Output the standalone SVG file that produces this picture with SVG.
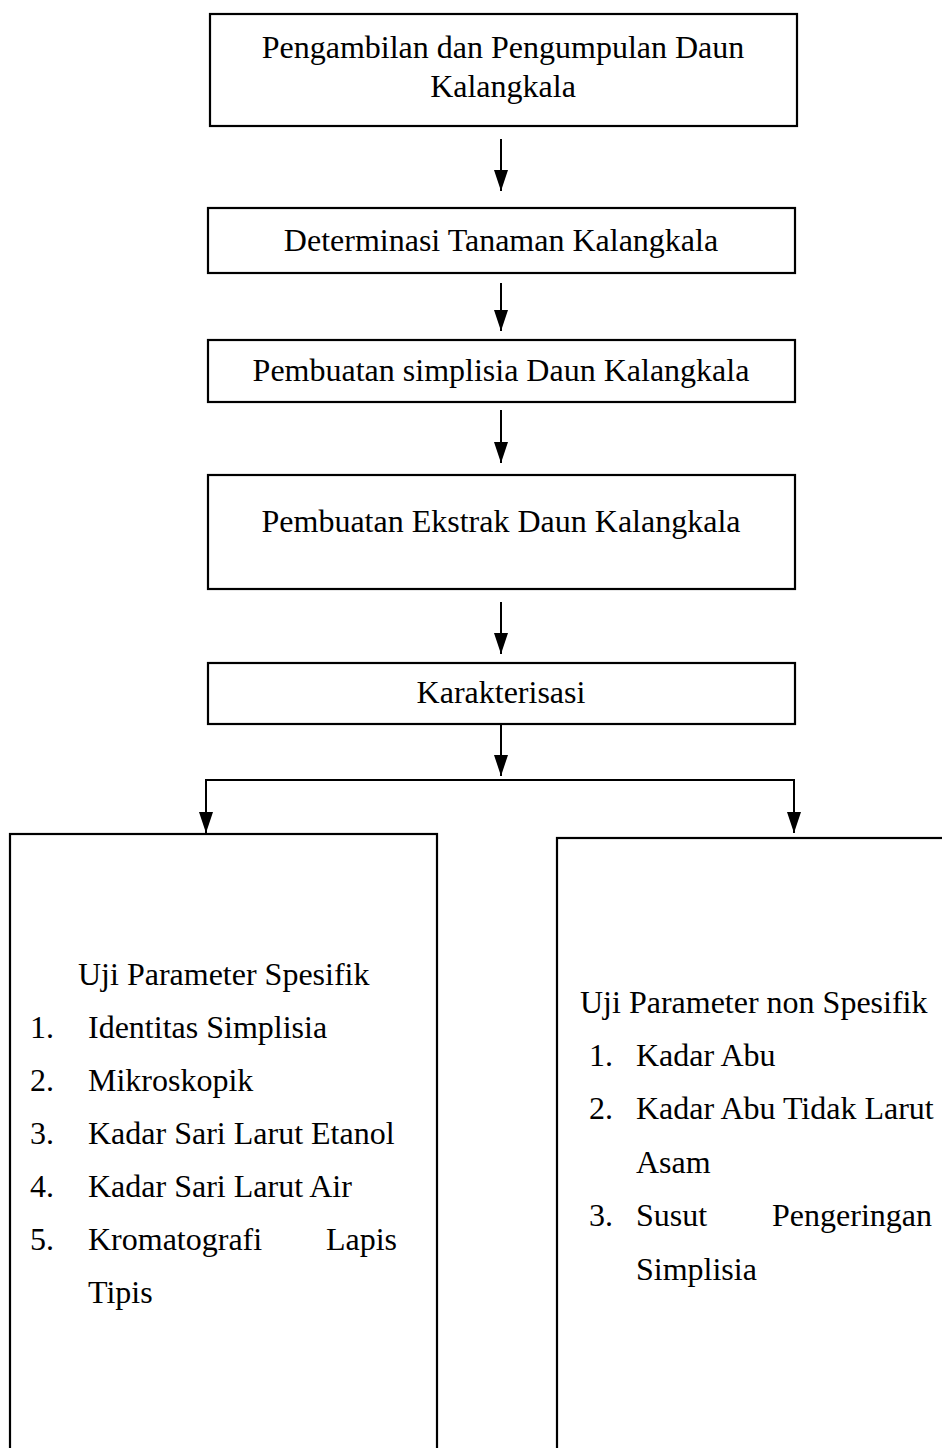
<svg xmlns="http://www.w3.org/2000/svg" width="942" height="1448" viewBox="0 0 942 1448">
<defs>
<marker id="ah" markerUnits="userSpaceOnUse" markerWidth="22" markerHeight="14" refX="21" refY="7" orient="auto" viewBox="0 0 22 14">
<path d="M0,0 L21,7 L0,14 Z" fill="#000"/>
</marker>
<style>
.box{fill:#fff;stroke:#000;stroke-width:2.2}
.t{font-family:"Liberation Serif","Times New Roman",serif;font-size:32px;fill:#000}
.c{text-anchor:middle}
.e{text-anchor:end}
.ln{stroke:#000;stroke-width:2;fill:none}
.ar{stroke:#000;stroke-width:2;fill:none;marker-end:url(#ah)}
</style>
</defs>
<g id="connectors">
<line class="ar" x1="501" y1="139" x2="501" y2="191"/>
<line class="ar" x1="501" y1="283" x2="501" y2="331"/>
<line class="ar" x1="501" y1="410" x2="501" y2="463"/>
<line class="ar" x1="501" y1="602" x2="501" y2="654"/>
<line class="ar" x1="501" y1="724" x2="501" y2="776"/>
<line class="ln" x1="206" y1="780" x2="794" y2="780"/>
<line class="ar" x1="206" y1="779" x2="206" y2="833"/>
<line class="ar" x1="794" y1="779" x2="794" y2="833"/>
</g>
<g id="n1">
<rect class="box" x="210" y="14" width="587" height="112"/>
<text class="t c" x="503" y="58">Pengambilan dan Pengumpulan Daun</text>
<text class="t c" x="503" y="97">Kalangkala</text>
</g>
<g id="n2">
<rect class="box" x="208" y="208" width="587" height="65"/>
<text class="t c" x="501" y="251">Determinasi Tanaman Kalangkala</text>
</g>
<g id="n3">
<rect class="box" x="208" y="340" width="587" height="62"/>
<text class="t c" x="501" y="381">Pembuatan simplisia Daun Kalangkala</text>
</g>
<g id="n4">
<rect class="box" x="208" y="475" width="587" height="114"/>
<text class="t c" x="501" y="532">Pembuatan Ekstrak Daun Kalangkala</text>
</g>
<g id="n5">
<rect class="box" x="208" y="663" width="587" height="61"/>
<text class="t c" x="501" y="703">Karakterisasi</text>
</g>
<g id="n6">
<rect class="box" x="10" y="834" width="427" height="640"/>
<text class="t" x="78" y="985">Uji Parameter Spesifik</text>
<text class="t" x="30" y="1038">1.</text><text class="t" x="88" y="1038">Identitas Simplisia</text>
<text class="t" x="30" y="1091">2.</text><text class="t" x="88" y="1091">Mikroskopik</text>
<text class="t" x="30" y="1144">3.</text><text class="t" x="88" y="1144">Kadar Sari Larut Etanol</text>
<text class="t" x="30" y="1197">4.</text><text class="t" x="88" y="1197">Kadar Sari Larut Air</text>
<text class="t" x="30" y="1250">5.</text><text class="t" x="88" y="1250">Kromatografi</text><text class="t e" x="397" y="1250">Lapis</text>
<text class="t" x="88" y="1303">Tipis</text>
</g>
<g id="n7">
<rect class="box" x="557" y="838" width="420" height="640"/>
<text class="t" x="580" y="1013">Uji Parameter non Spesifik</text>
<text class="t" x="589" y="1066">1.</text><text class="t" x="636" y="1066">Kadar Abu</text>
<text class="t" x="589" y="1119">2.</text><text class="t" x="636" y="1119">Kadar Abu Tidak Larut</text>
<text class="t" x="636" y="1173">Asam</text>
<text class="t" x="589" y="1226">3.</text><text class="t" x="636" y="1226">Susut</text><text class="t e" x="932" y="1226">Pengeringan</text>
<text class="t" x="636" y="1280">Simplisia</text>
</g>
</svg>
